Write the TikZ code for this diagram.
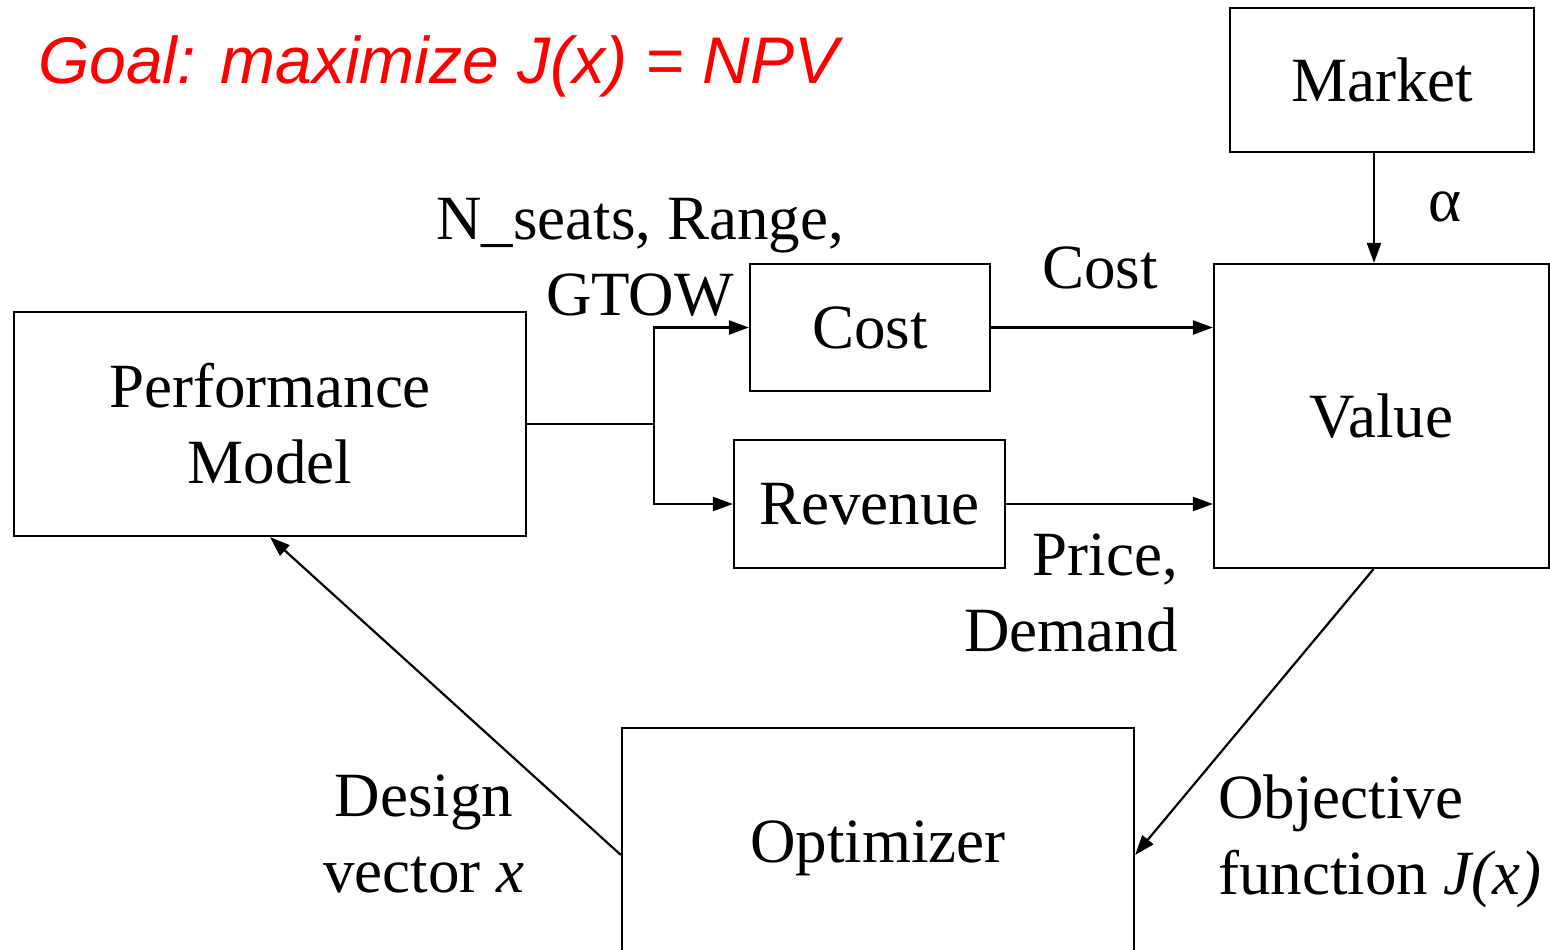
\documentclass[tikz,border=0pt]{standalone}
\usepackage{fontspec}
\setmainfont{Liberation Serif}
\newfontfamily\goalfont{Liberation Sans}
\usetikzlibrary{arrows.meta,calc}
\begin{document}
\begin{tikzpicture}[x=1pt,y=-1pt,
  box/.style={draw,line width=2.2pt,rectangle,inner sep=0pt,align=center},
  lbl/.style={inner sep=0pt},
  conn/.style={line width=2.2pt},
  arr/.style={conn,-{Triangle[length=20pt,width=14pt]}},
  every node/.style={font=\fontsize{63}{76}\selectfont}]
\useasboundingbox (0,0) rectangle (1550,950);
\clip (0,0) rectangle (1550,950);
\fill[white] (0,0) rectangle (1550,950);
% title
\node[lbl,anchor=base west,text=red,font=\goalfont\itshape\fontsize{66}{76}\selectfont] (goal) at (38,83) {Goal: maximize J(x) = NPV};
% boxes
\node[box,minimum width=304pt,minimum height=144pt] (mkt) at (1382,80) {Market};
\node[box,minimum width=335pt,minimum height=304pt] (val) at (1381.5,416) {Value};
\node[box,minimum width=240pt,minimum height=127pt] (cost) at (870,327.5) {Cost};
\node[box,minimum width=271pt,minimum height=128pt] (rev) at (869.5,504) {Revenue};
\node[box,minimum width=512pt,minimum height=224pt] (perf) at (270,424) {Performance\\Model};
\node[box,minimum width=512pt,minimum height=254pt,text height=30pt,text depth=16pt] (opt) at (878,855) {Optimizer};
% branch point
\coordinate (br) at (654,424);
% connectors
\draw[arr] ([xshift=-8pt]mkt.south) -- ([xshift=-8pt]mkt.south |- val.north);
\draw[conn] (perf.east) -- (br);
\draw[arr] (br) |- (cost.west);
\draw[arr] (br) |- (rev.west);
\draw[arr] (cost.east) -- (cost.east -| val.west);
\draw[arr] (rev.east) -- (rev.east -| val.west);
\draw[arr] ([xshift=-8pt]val.south) -- (opt.east);
\draw[arr] (opt.west) -- (perf.south);
% labels
\node[lbl] (alpha) at (1445,207) {α};
\node[lbl] (costlbl) at (1100,268) {Cost};
\node[lbl,align=center] (inlbl) at (640,257) {N\_seats, Range,\\GTOW};
\node[lbl,align=right,anchor=east] (pdlbl) at (1178,593) {Price,\\Demand};
\node[lbl,align=center] (dvlbl) at (424,834) {Design\\vector \textit{x}};
\node[lbl,align=left,anchor=west] (oflbl) at (1218,841) {Objective\\function \textit{J(x)}};
\end{tikzpicture}
\end{document}
